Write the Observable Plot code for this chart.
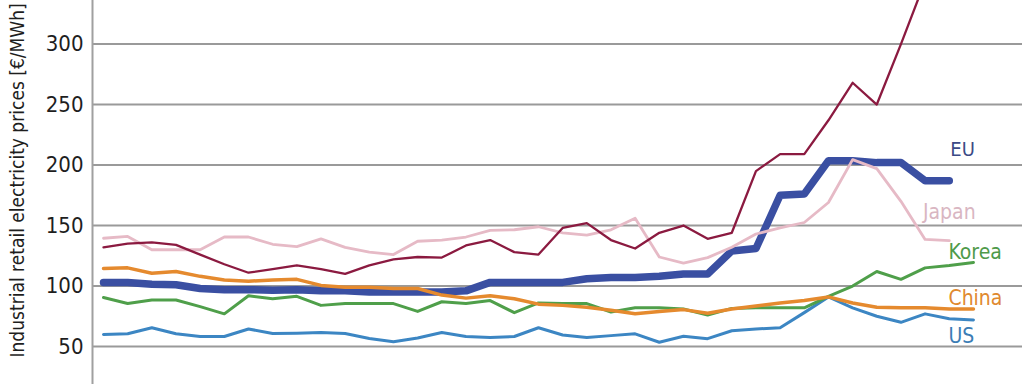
<!DOCTYPE html>
<html>
<head>
<meta charset="utf-8">
<script src="https://cdn.jsdelivr.net/npm/d3@7"></script>
<script src="https://cdn.jsdelivr.net/npm/@observablehq/plot@0.6"></script>
<style>
  html, body { margin: 0; padding: 0; background: #fff; }
  #chart svg { display: block; }
</style>
</head>
<body>
<div id="chart"></div>
<script>
// Period index (x positions are evenly spaced periods; x axis is out of view)
const yTitle = "Industrial retail electricity prices [€/MWh]";
const yTicks = [50, 100, 150, 200, 250, 300, 350];

// Unlabelled top (maroon) series – its label is outside the visible crop
const topSeries = [132, 135, 136, 134, 126, 118, 111, 114, 117, 114, 110, 117, 122, 124, 123.5, 133.5, 138, 128, 126, 148, 152, 138, 131, 144, 150, 139, 144, 195, 209, 209, 237, 268, 250, 300, 352];
const japan = [139.5, 141, 130, 130, 130, 140.5, 140.5, 134.5, 132.5, 139, 132, 128, 126, 137, 138, 140.5, 146, 146.5, 149, 144, 142, 146.5, 156, 124, 119, 123.5, 132, 143, 148, 152.5, 169, 204.5, 197, 170, 138.5, 137.5];
const eu = [103, 103, 101.5, 101, 98, 97, 97, 96.5, 97, 96, 96, 95, 95, 95, 95, 96, 103, 103, 103, 103, 106, 107, 107, 108, 110, 110, 129, 131, 175, 176, 203.5, 203.5, 202, 202, 187, 187];
const china = [114.5, 115, 110.5, 112, 108, 105, 104, 105, 105.5, 100.5, 99, 99, 98, 98, 92.5, 90, 92, 89.5, 85, 84, 82.5, 80, 77, 79, 80.5, 77.5, 81, 83.5, 86, 88, 91, 86, 82.5, 82, 82, 81, 81];
const korea = [90.5, 85.5, 88.5, 88.5, 83, 77, 92, 89.5, 91.5, 84, 85.5, 85.5, 85.5, 79, 87, 85.5, 88, 78, 86, 85.5, 85.5, 78.5, 82, 82, 81, 76, 81.5, 82, 82, 82, 91.5, 100, 112, 105.5, 115, 117, 119.5];
const us = [60, 60.5, 65.5, 60.5, 58.3, 58.3, 64.5, 60.7, 61, 61.6, 60.7, 56.6, 54, 57, 61.6, 58.3, 57.4, 58.3, 65.5, 59.5, 57.4, 59, 60.5, 53.5, 58.5, 56.5, 63, 64.5, 65.5, 78, 91, 82, 75, 70, 77, 73, 72];

const toRows = (name, arr) => arr.map((v, i) => ({series: name, i, v}));
const last = (rows) => [rows[rows.length - 1]];

const rTop = toRows("top", topSeries);
const rJapan = toRows("Japan", japan);
const rEU = toRows("EU", eu);
const rChina = toRows("China", china);
const rKorea = toRows("Korea", korea);
const rUS = toRows("US", us);

const C = {
  top: "#8b1a40",
  japan: "#e6bac6",
  eu: "#3a4fa2",
  china: "#e58a2e",
  korea: "#4f9f4a",
  us: "#3c86c3"
};
const font = "'DejaVu Sans Condensed', 'Liberation Sans Narrow', 'DejaVu Sans', sans-serif";
const lineOpts = {x: "i", y: "v", clip: true, strokeLinejoin: "round", strokeLinecap: "round", curve: "linear"};

const chart = Plot.plot({
  width: 1024,
  height: 384,
  marginLeft: 92,
  marginRight: 2,
  marginTop: 0,
  marginBottom: 0,
  style: {fontFamily: font, background: "#fff", overflow: "visible"},
  x: {domain: [-0.455, 38.03], axis: null},
  y: {domain: [18.6, 336], axis: null},
  marks: [
    Plot.gridY(yTicks, {stroke: "#9a9a9a", strokeOpacity: 1, strokeWidth: 2}),
    Plot.frame({anchor: "left", stroke: "#a0a0a0", strokeWidth: 2}),
    Plot.axisY(yTicks, {tickSize: 0, tickPadding: 9, fontSize: 22, fill: "#1e1e1e", label: null}),
    Plot.text([yTitle], {frameAnchor: "bottom-left", rotate: -90, textAnchor: "start", lineAnchor: "middle", dx: -75, dy: -27, fontSize: 19, fill: "#1e1e1e"}),
    Plot.line(rEU, {...lineOpts, stroke: C.eu, strokeWidth: 7.5}),
    Plot.line(rUS, {...lineOpts, stroke: C.us, strokeWidth: 3}),
    Plot.line(rKorea, {...lineOpts, stroke: C.korea, strokeWidth: 3}),
    Plot.line(rChina, {...lineOpts, stroke: C.china, strokeWidth: 3.5}),
    Plot.line(rJapan, {...lineOpts, stroke: C.japan, strokeWidth: 2.8}),
    Plot.line(rTop, {...lineOpts, stroke: C.top, strokeWidth: 2.3}),
    Plot.text(last(rEU), {x: "i", y: "v", text: "series", fill: "#3b4a86", fontSize: 20, textAnchor: "start", dx: 1, dy: -31}),
    Plot.text(last(rJapan), {x: "i", y: "v", text: "series", fill: "#d9b6c2", fontSize: 21, textAnchor: "middle", dx: 0, dy: -28}),
    Plot.text(last(rKorea), {x: "i", y: "v", text: "series", fill: "#4f9a4a", fontSize: 21, textAnchor: "start", dx: -25, dy: -10}),
    Plot.text(last(rChina), {x: "i", y: "v", text: "series", fill: "#e0892f", fontSize: 21, textAnchor: "start", dx: -25, dy: -11}),
    Plot.text(last(rUS), {x: "i", y: "v", text: "series", fill: "#3c7db5", fontSize: 21, textAnchor: "start", dx: -25, dy: 16})
  ]
});
document.getElementById("chart").appendChild(chart);
</script>
</body>
</html>
